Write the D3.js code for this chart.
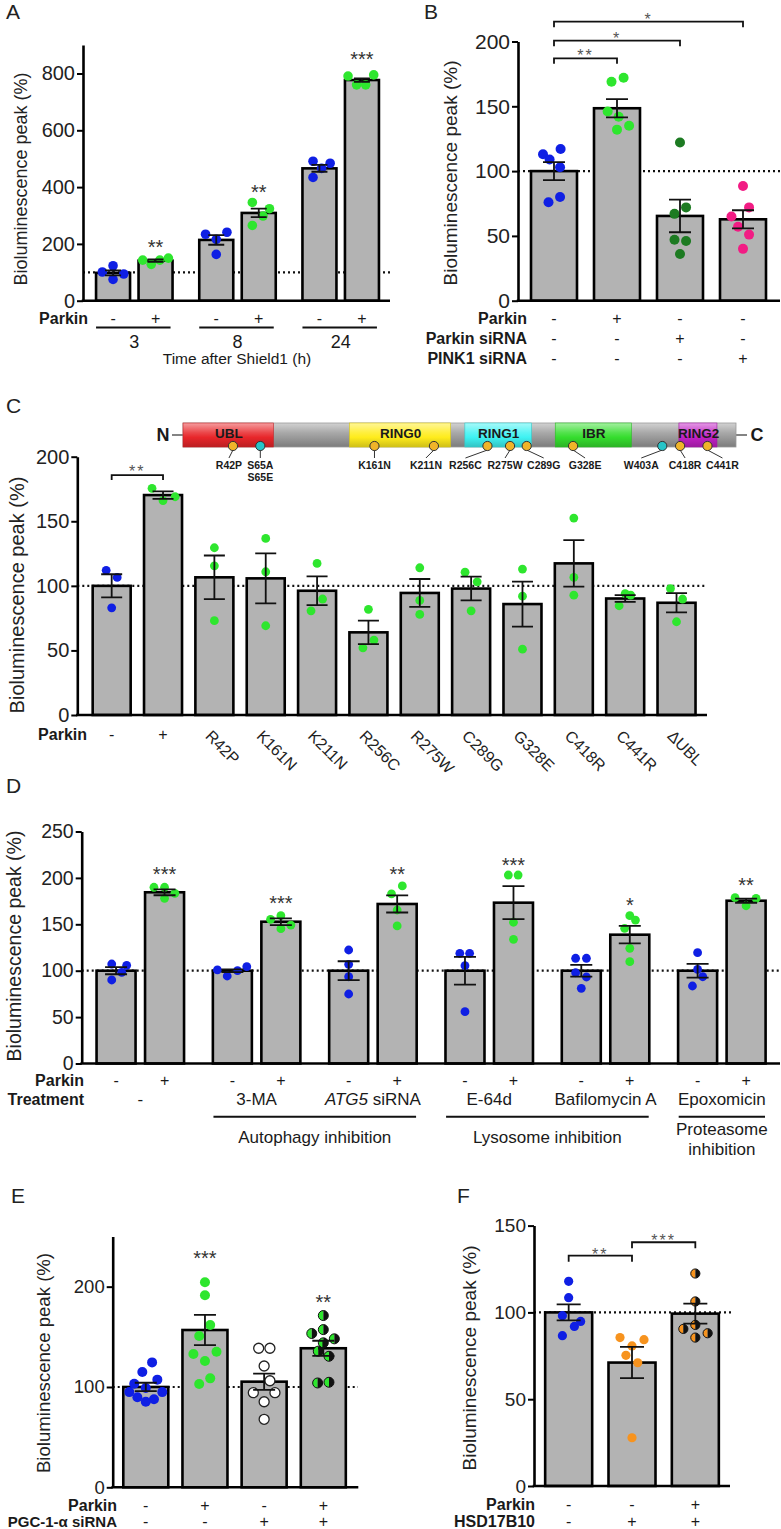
<!DOCTYPE html>
<html><head><meta charset="utf-8">
<script src="https://cdn.jsdelivr.net/npm/d3@7"></script>
<style>body{margin:0;background:#fff}svg{display:block}text{font-family:"Liberation Sans",Arial,Helvetica,sans-serif}</style>
</head><body><svg id="c" width="781" height="1529"></svg>
<script>
// ---------------- DATA ----------------
// Panel A
const groupsA = ["3","8","24"];
const parkinA = ["-","+","-","+","-","+"];
const meansA = [98,141,214,309,466,777];
const semA = [9,4,17,15,12,6];
const pointsA = [[101,123,94,75],[143,128,143,150],[234,216,241,163],[346,324,298,265],[491,466,484,434],[791,760,760,795]];
const jitterA = [[-1,0,1,0],[-1.2,-0.4,0.4,1.2],[-1,0,1,0],[-0.6,1,0.4,-0.6],[-0.6,0.2,1,-0.6],[-1.3,-0.5,0.35,1.1]];
const starsA = ["","**","","**","","***"];
const starValA = [null,203,null,400,null,865];
const ticksA = [0,200,400,600,800];

// Panel B
const parkinB = ["-","+","-","-"];
const siParkinB = ["-","-","+","-"];
const siPinkB = ["-","-","-","+"];
const meansB = [100,148.5,65.4,62.8];
const semB = [7,7,12.6,7];
const pointsB = [[113,109,117,103,76,80],[169,172,146,142,135,132],[122,67,72,47,46,36],[88.5,65,72,57,51,40]];
const jitterB = [[-1,-0.4,0.6,0.55,-0.5,0.55],[-0.5,0.6,-0.85,0.15,1.1,0],[0,-0.5,0.55,-0.5,0.55,0],[0,-1.05,0.55,-0.45,0.55,0]];
const bracketsB = [{from:0,to:1,value:187,label:"**"},{from:0,to:2,value:200.6,label:"*"},{from:0,to:3,value:215.3,label:"*"}];
const ticksB = [0,50,100,150,200];

// Panel C
const catsC = ["-","+","R42P","K161N","K211N","R256C","R275W","C289G","G328E","C418R","C441R","\u0394UBL"];
const meansC = [100,170.3,106.6,105.8,96.2,64,94.5,97.9,85.9,117.4,90.2,86.9];
const semC = [9,2.9,16.9,19.4,11.2,9.1,10.8,9.2,17.4,18,2.6,7.5];
const pointsC = [[112,106.5,83],[175.5,166,169],[129.5,115.5,73],[136.7,110.9,69.1],[117.4,89.8,80.7],[81.8,58,52],[114,88.7,77.9],[110.6,103.1,80.7],[113,92,51],[152.5,106.6,92.8],[94,92.8,84.6],[97.9,89.8,72.2]];
const jitterC = [[-0.5,0.5,0],[-1,0,1.1],[0,0,0],[0,0,0],[0,0.5,-0.55],[0,0.5,-0.5],[0,0,0],[-0.55,0.55,0],[0,0,0],[0,0,0],[0,0.5,-0.55],[-0.55,0.55,0]];
const bracketsC = [{from:0,to:1,value:185.8,label:"**"}];
const ticksC = [0,50,100,150,200];
// Parkin domain map (residues)
const proteinLength = 465;
const domainNames = ["UBL","RING0","RING1","IBR","RING2"];
const domainStart = [1,141,238,314,418];
const domainEnd = [76,225,293,377,449];
const mutNames = [["R42P"],["S65A","S65E"],["K161N"],["K211N"],["R256C"],["R275W"],["C289G"],["G328E"],["W403A"],["C418R"],["C441R"]];
const mutResidue = [42,65,161,211,256,275,289,328,403,418,441];
const mutKind = ["p","s","p","p","p","p","p","p","s","p","p"];

// Panel D
const groupsD = ["-","3-MA","ATG5 siRNA","E-64d","Bafilomycin A","Epoxomicin"];
const parkinD = ["-","+","-","+","-","+","-","+","-","+","-","+"];
const meansD = [100,184.5,100,152.8,100,171.9,100,173.3,100,138.8,100,175.4];
const semD = [3.8,3.2,1.5,3.6,10.2,9.2,14.9,17.8,6.3,9.4,7.4,2.2];
const pointsD = [[107.2,105.8,98.3,90],[189.9,189.9,183.4,178],[100.8,94.3,100,104.3],[155.4,159.3,145.3,149.2],[122.3,106.9,93.5,74.9],[191.3,182.7,165.4,148.2],[118.7,118.7,105.4,55.8],[203.1,203.1,152.2,133.8],[113.4,113.4,97.8,93.2,81],[159.3,154.6,145.7,124.1,109.7],[119.4,101.5,93.5,83.5],[178.7,178,170]];
const jitterD = [[-0.42,1.03,0.55,-0.42],[-1.03,0,1,0],[-1.45,-0.5,0.5,1.4],[-1,0,0,0.97],[0,0,0,0],[0.5,-0.55,0,0],[-0.5,0.45,0,0],[-0.5,0.45,0,0],[-0.55,0.5,-0.55,0.5,0],[0,0.55,-0.5,0,0],[0,0,0.5,-0.5],[-1.07,0.97,0]];
const starsD = ["","***","","***","","**","","***","","*","","**"];
const starValD = [null,209,null,178,null,208.5,null,218.5,null,176,null,197];
const inhibitionD = [{label:["Autophagy inhibition"],from:1,to:2},{label:["Lysosome inhibition"],from:3,to:4},{label:["Proteasome","inhibition"],from:5,to:5}];
const ticksD = [0,50,100,150,200,250];

// Panel E
const parkinE = ["-","+","-","+"];
const siPgcE = ["-","-","+","+"];
const meansE = [100,156.8,105.3,138.6];
const semE = [4.2,15,8.1,7.5];
const pointsE = [[114.9,124.5,103.3,107.3,94.9,98.9,89.7,85.3,87.7,94.9],[204.4,191.4,161.8,150.8,135.2,132.9,125.9,108.6,103],[138.6,138.6,120.9,106.2,94.3,94.3,85.3,67.8],[171.2,153.3,157.2,148,144,135.7,130.6,104,104.7]];
const jitterE = [[-0.33,0.6,-1.1,1.1,-1.57,0,-0.8,0,0.78,1.57],[0,0,0.5,-0.55,1.1,-1.1,0,0.5,-0.55],[-0.52,0.55,0,0.55,-1.03,1.03,0,0],[0,-1.1,0,1.05,0,-0.48,0.54,-0.54,0.54]];
const starsE = ["","***","","**"];
const starValE = [null,232.6,null,189.4];
const ticksE = [0,100,200];

// Panel F
const parkinF = ["-","-","+"];
const hsdF = ["-","+","+"];
const meansF = [100,71.1,99.3];
const semF = [4.6,9,5.8];
const pointsF = [[117.9,108.5,98.1,91.9,94.8,86.6],[85.5,84.3,80.7,75.3,71,27.8],[122.4,106.3,92.8,90.5,88,85.5]];
const jitterF = [[0,0,-0.57,0.52,1.09,-0.57],[-1.09,1.09,0,-0.55,0.52,0],[0,0,0,-1.09,1.12,0]];
const bracketsF = [{from:0,to:1,value:132.7,label:"**"},{from:1,to:2,value:140.4,label:"***"}];
const ticksF = [0,50,100,150];

// ---------------- DRAWING ----------------
const svg = d3.select("#c");
const FONT = '"Liberation Sans", Arial, Helvetica, sans-serif';
const COL = {blue:"#0f1fe4", green:"#2ee62e", dkgreen:"#1d7b22", pink:"#f21c84", orange:"#f7931e"};

function txt(g, x, y, s, o = {}) {
  const t = g.append("text").attr("x", x).attr("y", y).text(s)
    .attr("font-size", o.size || 16).attr("text-anchor", o.anchor || "middle")
    .attr("dominant-baseline", o.base || "central").attr("fill", o.fill || "#1a1a1a");
  if (o.bold) t.attr("font-weight", "bold");
  if (o.italic) t.attr("font-style", "italic");
  if (o.rotate != null) t.attr("transform", `rotate(${o.rotate},${x},${y})`);
  if (o.ls) t.attr("letter-spacing", o.ls);
  return t;
}

function dot(g, x, y, r, style) {
  if (style === "white") {
    g.append("circle").attr("cx", x).attr("cy", y).attr("r", r).attr("fill", "#fff").attr("stroke", "#222").attr("stroke-width", 1.3);
  } else if (style === "halfGreen" || style === "halfOrange") {
    const c = style === "halfGreen" ? COL.green : COL.orange;
    const arc = d3.arc();
    g.append("path").attr("transform", `translate(${x},${y})`)
      .attr("d", arc({innerRadius: 0, outerRadius: r, startAngle: Math.PI, endAngle: 2 * Math.PI})).attr("fill", c);
    g.append("path").attr("transform", `translate(${x},${y})`)
      .attr("d", arc({innerRadius: 0, outerRadius: r, startAngle: 0, endAngle: Math.PI})).attr("fill", "#111");
    g.append("circle").attr("cx", x).attr("cy", y).attr("r", r).attr("fill", "none").attr("stroke", "#111").attr("stroke-width", 1);
  } else {
    g.append("circle").attr("cx", x).attr("cy", y).attr("r", r).attr("fill", COL[style]);
  }
}

function stars(g, x, yc, s, size, fill, ls) {
  txt(g, x, yc + 0.57 * size, s, {size, fill: fill || "#333", base: "alphabetic", ls: ls || 0});
}

function bracket(g, x1, x2, yb, label, drop, gap, size) {
  g.append("path").attr("d", `M${x1},${yb + drop}V${yb}H${x2}V${yb + drop}`)
    .attr("fill", "none").attr("stroke", "#111").attr("stroke-width", 1.8);
  stars(g, (x1 + x2) / 2, yb - gap, label, size, "#555", 2);
}

function barPanel(g, o) {
  const y = o.y, xc = o.xc, bw = o.bw;
  g.append("line").attr("x1", o.axisX).attr("x2", o.dotTo).attr("y1", y(100)).attr("y2", y(100))
    .attr("stroke", "#111").attr("stroke-width", 2.2).attr("stroke-dasharray", "2,3");
  g.selectAll(null).data(o.means).join("rect")
    .attr("x", (d, i) => xc(i) - bw / 2).attr("y", d => y(d))
    .attr("width", bw).attr("height", d => y(0) - y(d))
    .attr("fill", "#b3b3b3").attr("stroke", "#000").attr("stroke-width", 2.6);
  o.points.forEach((arr, i) => arr.forEach((v, j) => dot(g, xc(i) + o.jitter[i][j] * o.slot, y(v), o.r, o.styles[i])));
  o.means.forEach((m, i) => {
    const x = xc(i), hi = y(m + o.sems[i]), lo = y(m - o.sems[i]), c = o.cap / 2;
    g.append("path").attr("d", `M${x},${hi}V${lo}M${x - c},${hi}H${x + c}M${x - c},${lo}H${x + c}`)
      .attr("fill", "none").attr("stroke", "#111").attr("stroke-width", 1.8);
  });
  const ax = d3.axisLeft(y).tickValues(o.ticks).tickSize(6).tickSizeOuter(0).tickPadding(2).tickFormat(d3.format("d"));
  const axg = g.append("g").attr("transform", `translate(${o.axisX},0)`).call(ax)
    .attr("font-family", FONT).attr("font-size", o.tickFont);
  axg.select(".domain").attr("stroke-width", 2.6);
  axg.selectAll(".tick line").attr("stroke-width", 2);
  axg.selectAll(".tick text").attr("fill", "#222");
  g.append("line").attr("x1", o.axisX - 1.3).attr("x2", o.axisEnd).attr("y1", y(0)).attr("y2", y(0))
    .attr("stroke", "#000").attr("stroke-width", 2.6);
  txt(g, o.labX, o.labY, "Bioluminescence peak (%)", {size: o.labSize, rotate: -90, fill: "#222"});
}

function singleBand(n, r0, r1, bw) {
  const s = d3.scaleBand().domain(d3.range(n)).range([r0, r1]);
  const pi = 1 - bw / s.step();
  s.paddingInner(pi).paddingOuter(pi / 2);
  return i => s(i) + s.bandwidth() / 2;
}
function pairBand(groups, r0, r1, sep, bw) {
  const outer = d3.scaleBand().domain(groups).range([r0, r1]);
  const pi = 1 - bw / sep;
  const inner = d3.scaleBand().domain([0, 1]).range([-sep, sep]).paddingInner(pi).paddingOuter(pi / 2);
  const f = i => outer(groups[Math.floor(i / 2)]) + outer.bandwidth() / 2 + inner(i % 2) + inner.bandwidth() / 2;
  f.outer = outer;
  return f;
}

function letter(s, x, y) { txt(svg, x, y, s, {size: 21, anchor: "start", base: "alphabetic", fill: "#222"}); }

// ===== Panel A =====
{
  const g = svg.append("g");
  const y = d3.scaleLinear().domain([0, 900]).range([300.7, 45.1]);
  const xc = pairBand(groupsA, 82.7, 392.3, 42.5, 34);
  barPanel(g, {y, xc, bw: 34, means: meansA, sems: semA, points: pointsA, jitter: jitterA, slot: 10.7, r: 4.8,
    styles: parkinA.map(p => p === "-" ? "blue" : "green"), cap: 16, axisX: 83, axisEnd: 390, dotTo: 390,
    ticks: ticksA, tickFont: 20, labX: 21, labY: 179, labSize: 18});
  starsA.forEach((s, i) => { if (s) stars(g, xc(i), y(starValA[i]), s, 20, "#333"); });
  txt(g, 88, 318, "Parkin", {bold: true, anchor: "end", size: 16});
  parkinA.forEach((p, i) => txt(g, xc(i), 318, p, {size: 16}));
  groupsA.forEach((grp, k) => {
    g.append("line").attr("x1", xc(2 * k) - 17).attr("x2", xc(2 * k + 1) + 15).attr("y1", 327.5).attr("y2", 327.5)
      .attr("stroke", "#111").attr("stroke-width", 1.8);
    txt(g, (xc(2 * k) + xc(2 * k + 1)) / 2, 348, grp, {size: 18, base: "alphabetic"});
  });
  txt(g, 237, 364, "Time after Shield1 (h)", {size: 15.5, base: "alphabetic"});
  letter("A", 6, 19);
}

// ===== Panel B =====
{
  const g = svg.append("g");
  const y = d3.scaleLinear().domain([0, 200]).range([300.7, 41.5]);
  const xc = singleBand(4, 522.5, 774.5, 46);
  barPanel(g, {y, xc, bw: 46, means: meansB, sems: semB, points: pointsB, jitter: jitterB, slot: 11, r: 5,
    styles: ["blue", "green", "dkgreen", "pink"], cap: 22, axisX: 518, axisEnd: 780, dotTo: 780,
    ticks: ticksB, tickFont: 21, labX: 450, labY: 173, labSize: 19});
  bracketsB.forEach(b => bracket(g, xc(b.from), xc(b.to), y(b.value), b.label, 5.5, 6, 16));
  const rows = [["Parkin", parkinB, 318], ["Parkin siRNA", siParkinB, 338], ["PINK1 siRNA", siPinkB, 358]];
  rows.forEach(([lab, arr, yy]) => {
    txt(g, 527, yy, lab, {bold: true, anchor: "end", size: 16});
    arr.forEach((p, i) => txt(g, xc(i), yy, p, {size: 16}));
  });
  letter("B", 424, 19);
}

// ===== Panel C =====
{
  const g = svg.append("g");
  // domain diagram
  const xAA = d3.scaleLinear().domain([0, proteinLength]).range([183, 736]);
  const defs = svg.append("defs");
  const grad = (id, c) => {
    const lg = defs.append("linearGradient").attr("id", id).attr("x1", 0).attr("x2", 0).attr("y1", 0).attr("y2", 1);
    lg.append("stop").attr("offset", "0%").attr("stop-color", d3.interpolateRgb(c, "#fff")(0.55));
    lg.append("stop").attr("offset", "40%").attr("stop-color", d3.interpolateRgb(c, "#fff")(0.15));
    lg.append("stop").attr("offset", "60%").attr("stop-color", c);
    lg.append("stop").attr("offset", "100%").attr("stop-color", d3.color(c).darker(0.6));
  };
  const domainColors = ["#e8262a", "#ffec1c", "#3ef2f2", "#35dd2e", "#c020c4"];
  grad("gGray", "#9a9a9a");
  domainColors.forEach((c, i) => grad("gD" + i, c));
  const top = 423, h = 24;
  g.append("line").attr("x1", 172).attr("x2", 183).attr("y1", top + h / 2).attr("y2", top + h / 2).attr("stroke", "#333").attr("stroke-width", 1.2);
  g.append("line").attr("x1", 736).attr("x2", 747).attr("y1", top + h / 2).attr("y2", top + h / 2).attr("stroke", "#333").attr("stroke-width", 1.2);
  g.append("rect").attr("x", xAA(0)).attr("y", top).attr("width", xAA(proteinLength) - xAA(0)).attr("height", h)
    .attr("fill", "url(#gGray)").attr("stroke", "#999").attr("stroke-width", 0.8);
  domainNames.forEach((n, i) => {
    g.append("rect").attr("x", xAA(domainStart[i] - 1)).attr("y", top).attr("width", xAA(domainEnd[i]) - xAA(domainStart[i] - 1)).attr("height", h)
      .attr("fill", `url(#gD${i})`).attr("stroke", d3.color(domainColors[i]).darker(0.5)).attr("stroke-width", 0.6);
    txt(g, xAA((domainStart[i] + domainEnd[i]) / 2), top + 10, n, {bold: true, size: 13.5, fill: "#1a1a1a"});
  });
  txt(g, 163, top + h / 2, "N", {bold: true, size: 18});
  txt(g, 757, top + h / 2, "C", {bold: true, size: 18});
  const labShift = [-4, 0, 0, -8, -22, -5, 17, 12, -21, 5, 15];
  mutResidue.forEach((res, i) => {
    const cx = xAA(res), cy = top + h - 1, lx = cx + labShift[i];
    g.append("line").attr("x1", cx).attr("y1", cy + 4).attr("x2", lx).attr("y2", 458).attr("stroke", "#333").attr("stroke-width", 1);
    g.append("circle").attr("cx", cx).attr("cy", cy).attr("r", 4.6)
      .attr("fill", mutKind[i] === "p" ? "#f0b429" : "#26c4c8").attr("stroke", "#333").attr("stroke-width", 1);
    mutNames[i].forEach((nm, k) => txt(g, lx, 465 + k * 12, nm, {bold: true, size: 10.5}));
  });

  const y = d3.scaleLinear().domain([0, 200]).range([715, 456.7]);
  const xc = singleBand(12, 86, 702.2, 38);
  barPanel(g, {y, xc, bw: 38, means: meansC, sems: semC, points: pointsC, jitter: jitterC, slot: 11, r: 4.4,
    styles: catsC.map((c, i) => i === 0 ? "blue" : "green"), cap: 21, axisX: 77.3, axisEnd: 707, dotTo: 705,
    ticks: ticksC, tickFont: 20, labX: 17, labY: 595, labSize: 20});
  bracketsC.forEach(b => bracket(g, xc(b.from), xc(b.to), y(b.value), b.label, 5, 7, 16));
  txt(g, 87, 734, "Parkin", {bold: true, anchor: "end", size: 16});
  catsC.forEach((c, i) => {
    if (i < 2) txt(g, xc(i), 734, c, {size: 16});
    else txt(g, xc(i) - 10, 737, c, {size: 16, anchor: "start", base: "alphabetic", rotate: 45, fill: "#222"});
  });
  letter("C", 6, 413);
}

// ===== Panel D =====
{
  const g = svg.append("g");
  const y = d3.scaleLinear().domain([0, 250]).range([1063.5, 831.5]);
  const xc = pairBand(groupsD, 82.15, 780, 48.5, 39);
  barPanel(g, {y, xc, bw: 39, means: meansD, sems: semD, points: pointsD, jitter: jitterD, slot: 10.3, r: 4.4,
    styles: parkinD.map(p => p === "-" ? "blue" : "green"), cap: 22, axisX: 81.7, axisEnd: 780, dotTo: 780,
    ticks: ticksD, tickFont: 19.5, labX: 14, labY: 946, labSize: 19.5});
  starsD.forEach((s, i) => { if (s) stars(g, xc(i), y(starValD[i]), s, 20, "#333"); });
  txt(g, 84, 1080, "Parkin", {bold: true, anchor: "end", size: 16});
  txt(g, 84, 1099, "Treatment", {bold: true, anchor: "end", size: 16});
  parkinD.forEach((p, i) => txt(g, xc(i), 1080, p, {size: 16}));
  const outer = xc.outer;
  groupsD.forEach((grp, k) => {
    const cx = outer(grp) + outer.bandwidth() / 2;
    if (grp === "ATG5 siRNA") {
      const t = txt(g, cx, 1099, "", {size: 17});
      t.append("tspan").attr("font-style", "italic").text("ATG5");
      t.append("tspan").text(" siRNA");
    } else txt(g, cx, 1099, grp, {size: 17});
  });
  inhibitionD.forEach(b => {
    const x1 = outer(groupsD[b.from]) + 15, x2 = outer(groupsD[b.to]) + outer.bandwidth() - 15;
    g.append("line").attr("x1", x1).attr("x2", x2).attr("y1", 1116.7).attr("y2", 1116.7).attr("stroke", "#111").attr("stroke-width", 2);
    if (b.label.length === 1) txt(g, (x1 + x2) / 2, 1137, b.label[0], {size: 17});
    else b.label.forEach((l, k) => txt(g, (x1 + x2) / 2, 1129 + k * 20, l, {size: 17}));
  });
  letter("D", 6, 793);
}

// ===== Panel E =====
{
  const g = svg.append("g");
  const y = d3.scaleLinear().domain([0, 250]).range([1487.3, 1236.5]);
  const xc = singleBand(4, 116.2, 352.9, 45);
  barPanel(g, {y, xc, bw: 45, means: meansE, sems: semE, points: pointsE, jitter: jitterE, slot: 10.5, r: 5,
    styles: ["blue", "green", "white", "halfGreen"], cap: 22, axisX: 112.7, axisEnd: 358.3, dotTo: 358,
    ticks: ticksE, tickFont: 18.5, labX: 43, labY: 1363, labSize: 18.6});
  starsE.forEach((s, i) => { if (s) stars(g, xc(i), y(starValE[i]), s, 20, "#333"); });
  txt(g, 117, 1505, "Parkin", {bold: true, anchor: "end", size: 16});
  txt(g, 117, 1521, "PGC-1-\u03b1 siRNA", {bold: true, anchor: "end", size: 15});
  parkinE.forEach((p, i) => txt(g, xc(i), 1505, p, {size: 16}));
  siPgcE.forEach((p, i) => txt(g, xc(i), 1521, p, {size: 16}));
  letter("E", 11, 1203);
}

// ===== Panel F =====
{
  const g = svg.append("g");
  const y = d3.scaleLinear().domain([0, 150]).range([1486, 1225.6]);
  const xc = singleBand(3, 537, 727, 47);
  barPanel(g, {y, xc, bw: 47, means: meansF, sems: semF, points: pointsF, jitter: jitterF, slot: 11, r: 4.6,
    styles: ["blue", "orange", "halfOrange"], cap: 24, axisX: 534, axisEnd: 730, dotTo: 732,
    ticks: ticksF, tickFont: 19, labX: 469, labY: 1358, labSize: 19});
  bracketsF.forEach(b => bracket(g, xc(b.from), xc(b.to), y(b.value), b.label, 6, 5, 16));
  txt(g, 535, 1504, "Parkin", {bold: true, anchor: "end", size: 16});
  txt(g, 535, 1521, "HSD17B10", {bold: true, anchor: "end", size: 16});
  parkinF.forEach((p, i) => txt(g, xc(i), 1504, p, {size: 16}));
  hsdF.forEach((p, i) => txt(g, xc(i), 1521, p, {size: 16}));
  letter("F", 457, 1203);
}
</script>
</body></html>
